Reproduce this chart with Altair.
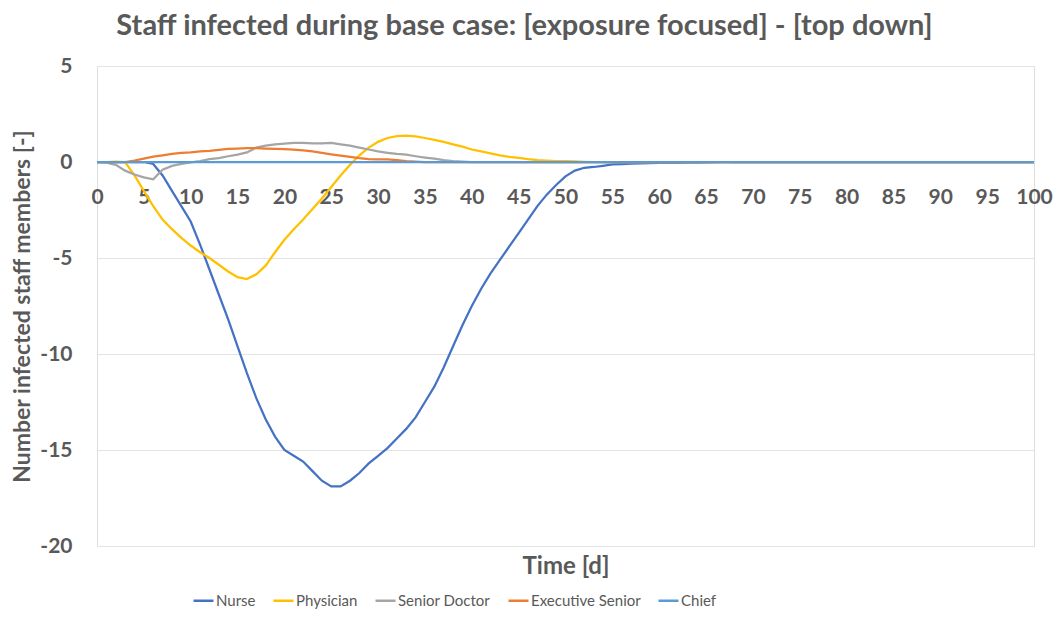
import altair as alt
import pandas as pd

days = list(range(0, 101))

nurse = [0, 0, 0, 0, 0, 0, -0.1, -0.7, -1.5, -2.3, -3.1, -4.3, -5.6, -6.9, -8.2, -9.6,
         -11.0, -12.3, -13.4, -14.3, -15.0, -15.3, -15.6, -16.1, -16.6, -16.9, -16.9, -16.6, -16.2, -15.7,
         -15.3, -14.9, -14.4, -13.9, -13.3, -12.5, -11.7, -10.7, -9.6, -8.5, -7.5, -6.6, -5.8, -5.1,
         -4.4, -3.7, -3.0, -2.3, -1.7, -1.2, -0.75, -0.45, -0.3, -0.26, -0.2, -0.13, -0.11, -0.09,
         -0.07, -0.06, -0.05, -0.04, -0.04, -0.03, -0.03, -0.02, -0.01, 0, 0, 0, 0, 0, 0, 0, 0, 0,
         0, 0, 0, 0, 0, 0, 0, 0, 0, 0, 0, 0, 0, 0, 0, 0, 0, 0, 0, 0, 0, 0, 0, 0, 0]

physician = [0, 0, 0.02, 0, -0.7, -1.5, -2.3, -3.0, -3.5, -3.95, -4.35, -4.7, -5.0, -5.35, -5.7, -6.0,
             -6.1, -5.85, -5.4, -4.7, -4.05, -3.5, -3.0, -2.45, -1.9, -1.3, -0.7, -0.15, 0.35, 0.75,
             1.05, 1.25, 1.35, 1.37, 1.33, 1.25, 1.15, 1.05, 0.92, 0.8, 0.65, 0.55, 0.45, 0.35, 0.27,
             0.22, 0.15, 0.1, 0.07, 0.05, 0.04, 0.03, 0.01, 0, 0, 0, 0, 0, 0, 0, 0, 0, 0, 0, 0, 0,
             0, 0, 0, 0, 0, 0, 0, 0, 0, 0, 0, 0, 0, 0, 0, 0, 0, 0, 0, 0, 0, 0, 0, 0, 0, 0, 0, 0, 0,
             0, 0, 0, 0, 0, 0]

senior_doctor = [0, -0.03, -0.15, -0.45, -0.65, -0.8, -0.9, -0.4, -0.2, -0.1, -0.02, 0.05, 0.15, 0.2,
                 0.3, 0.38, 0.5, 0.75, 0.85, 0.92, 0.96, 1.0, 1.0, 0.97, 0.97, 1.0, 0.92, 0.85, 0.75,
                 0.65, 0.55, 0.48, 0.42, 0.38, 0.3, 0.23, 0.17, 0.1, 0.05, 0.02, 0, 0, 0, 0, 0, 0, 0,
                 0, 0, 0, 0, 0, 0, 0, 0, 0, 0, 0, 0, 0, 0, 0, 0, 0, 0, 0, 0, 0, 0, 0, 0, 0, 0, 0, 0,
                 0, 0, 0, 0, 0, 0, 0, 0, 0, 0, 0, 0, 0, 0, 0, 0, 0, 0, 0, 0, 0, 0, 0, 0, 0, 0]

executive_senior = [0, 0, 0, 0, 0.07, 0.18, 0.28, 0.35, 0.42, 0.47, 0.5, 0.55, 0.58, 0.63, 0.68, 0.7,
                    0.72, 0.72, 0.7, 0.68, 0.67, 0.65, 0.6, 0.55, 0.48, 0.4, 0.33, 0.27, 0.2, 0.15,
                    0.14, 0.14, 0.1, 0.05, 0.02, 0, 0, 0, 0, 0, 0, 0, 0, 0, 0, 0, 0, 0, 0, 0, 0, 0, 0,
                    0, 0, 0, 0, 0, 0, 0, 0, 0, 0, 0, 0, 0, 0, 0, 0, 0, 0, 0, 0, 0, 0, 0, 0, 0, 0, 0, 0,
                    0, 0, 0, 0, 0, 0, 0, 0, 0, 0, 0, 0, 0, 0, 0, 0, 0, 0, 0, 0]

chief = [0, 0, 0, 0, 0, 0, 0, 0, 0, 0, 0, 0, 0, 0, 0, 0, 0, 0, 0, 0, 0, 0, 0, 0, 0, 0, 0, 0, 0, 0,
         0, 0, 0, 0, 0, 0, 0, 0, 0, 0, 0, 0, 0, 0, 0, 0, 0, 0, 0, 0, 0, 0, 0, 0, 0, 0, 0, 0, 0, 0,
         0, 0, 0, 0, 0, 0, 0, 0, 0, 0, 0, 0, 0, 0, 0, 0, 0, 0, 0, 0, 0, 0, 0, 0, 0, 0, 0, 0, 0, 0,
         0, 0, 0, 0, 0, 0, 0, 0, 0, 0, 0]

series_names = ["Nurse", "Physician", "Senior Doctor", "Executive Senior", "Chief"]
series_colors = ["#4472C4", "#FFC000", "#A5A5A5", "#ED7D31", "#5B9BD5"]
series_values = [nurse, physician, senior_doctor, executive_senior, chief]

x_ticks = list(range(0, 101, 5))
y_ticks = [-20, -15, -10, -5, 0, 5]

rows = []
for name, vals in zip(series_names, series_values):
    for d, v in zip(days, vals):
        rows.append({"Time": d, "Value": v, "Series": name})
df = pd.DataFrame(rows)

FONT = "Lato"
TXT = "#595959"

chart = alt.Chart(df).mark_line(strokeWidth=2.25).encode(
    x=alt.X("Time:Q",
            scale=alt.Scale(domain=[0, 100], nice=False),
            axis=alt.Axis(values=x_ticks, title="Time [d]", offset=-384, ticks=False,
                          domain=False, grid=False, labelPadding=24, labelFontSize=21,
                          labelFont=FONT, labelFontWeight="bold", labelColor=TXT,
                          titleFont=FONT, titleFontSize=24, titleFontWeight="bold",
                          titleColor=TXT, titleBaseline="alphabetic", titleY=411,
                          labelFlush=False, labelOverlap=False)),
    y=alt.Y("Value:Q",
            scale=alt.Scale(domain=[-20, 5], nice=False, zero=False),
            axis=alt.Axis(values=y_ticks, title="Number infected staff members [-]",
                          ticks=False, domain=False, grid=True, gridColor="#E3E3E3",
                          labelPadding=25, labelFontSize=21, labelFont=FONT,
                          labelExpr="datum.value + ''",
                          labelFontWeight="bold", labelColor=TXT, titleFont=FONT,
                          titleFontSize=23, titleFontWeight="bold", titleColor=TXT,
                          titleX=-75, titleY=240, titleBaseline="middle", titleAlign="center",
                          titleAngle=-90)),
    color=alt.Color("Series:N",
                    scale=alt.Scale(domain=series_names, range=series_colors),
                    legend=alt.Legend(title=None, orient="none", direction="horizontal",
                                      legendX=95, legendY=523, symbolType="stroke",
                                      symbolSize=400, symbolStrokeWidth=2.5, labelFont=FONT,
                                      labelFontSize=15, labelColor=TXT, labelOffset=1,
                                      columnPadding=12, padding=0, columns=5)),
    order=alt.Order("Time:Q"),
).properties(
    width=937,
    height=480,
    title=alt.TitleParams("Staff infected during base case: [exposure focused] - [top down]",
                          font=FONT, fontSize=29, fontWeight="bold", color=TXT,
                          anchor="middle", dx=-41, offset=14),
    autosize=alt.AutoSizeParams(type="none"),
    padding={"left": 89, "top": 58, "right": 20, "bottom": 64},
).configure_view(stroke=None).configure(background="white")

chart.save("out.html", embed_options={"renderer": "svg", "actions": False})
